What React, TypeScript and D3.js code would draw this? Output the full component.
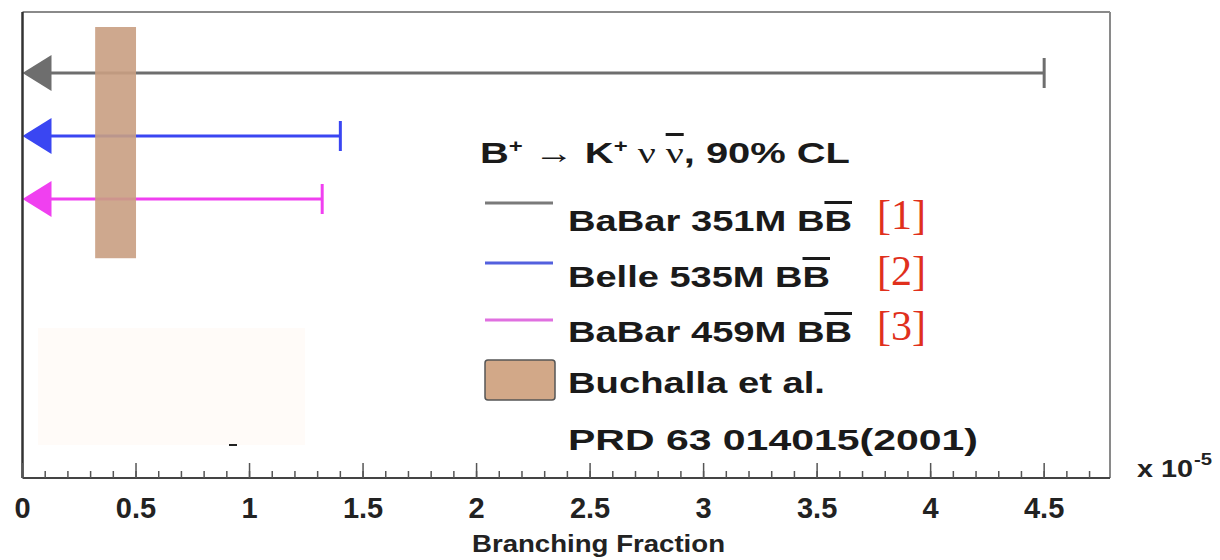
import React from "react";
import * as d3 from "d3";

// ---- data ----
const experiments = ["BaBar 351M", "Belle 535M", "BaBar 459M"];
const upperLimits = [4.5, 1.4, 1.32]; // x 10^-5, 90% CL
const seriesColors = ["#6e6e6e", "#3a46f2", "#f040f0"];
const legendColors = ["#7a7a7a", "#5360de", "#e070e0"];
const references = ["[1]", "[2]", "[3]"];
const theoryBand = [0.32, 0.5]; // Buchalla et al.
const theoryRows = [-0.73, 2.94];
const majorTicks = [0, 0.5, 1, 1.5, 2, 2.5, 3, 3.5, 4, 4.5];
const minorTicks = d3.range(0, 48).map((i) => i / 10);
const xDomain = [0, 4.79];

const W = 1220;
const H = 560;
const left = 22.5;
const right = 1110;
const top = 12;
const bottom = 478;

const SANS = "'Liberation Sans', Arial, Helvetica, sans-serif";
const SERIF = "'Liberation Serif', 'Times New Roman', serif";

export default function App() {
  const x = d3.scaleLinear().domain(xDomain).range([left, right]);
  const rowY = d3.scaleLinear().domain([0, 1]).range([73, 136]);

  const headLen = 29;
  const headHalf = 18;

  const legendRows = [231, 287, 342];
  const legendLineY = [203, 263, 320];
  const legendWidths = [284, 262, 284];

  return (
    <svg
      width={W}
      height={H}
      style={{ position: "absolute", left: 0, top: 0, background: "#fff" }}
      xmlns="http://www.w3.org/2000/svg"
    >
      <rect x={0} y={0} width={W} height={H} fill="#fff" />
      {/* faint patch */}
      <rect x={38} y={328} width={267} height={117} fill="#fffbf8" />
      <line x1={229} x2={237} y1={445} y2={445} stroke="#222" strokeWidth={2} />

      {/* arrows */}
      {experiments.map((e, i) => {
        const y = rowY(i);
        const x0 = x(0);
        const x1 = x(upperLimits[i]);
        return (
          <g key={e}>
            <line x1={x0 + headLen - 2} x2={x1} y1={y} y2={y} stroke={seriesColors[i]} strokeWidth={3} />
            <line x1={x1} x2={x1} y1={y - 15} y2={y + 15} stroke={seriesColors[i]} strokeWidth={3} />
            <polygon
              points={`${x0},${y} ${x0 + headLen},${y - headHalf} ${x0 + headLen},${y + headHalf}`}
              fill={seriesColors[i]}
            />
          </g>
        );
      })}

      {/* theory band */}
      <rect
        x={x(theoryBand[0])}
        y={rowY(theoryRows[0])}
        width={x(theoryBand[1]) - x(theoryBand[0])}
        height={rowY(theoryRows[1]) - rowY(theoryRows[0])}
        fill="#c99f82"
        opacity={0.9}
      />

      {/* frame */}
      <line x1={left} x2={right} y1={top} y2={top} stroke="#8a8a8a" strokeWidth={2} />
      <line x1={right} x2={right} y1={top} y2={bottom} stroke="#8a8a8a" strokeWidth={2} />
      <line x1={left} x2={left} y1={top} y2={bottom} stroke="#333" strokeWidth={2.5} />
      <line x1={left} x2={right} y1={bottom} y2={bottom} stroke="#444" strokeWidth={2} />

      {/* ticks */}
      {minorTicks.map((t) => (
        <line key={"m" + t} x1={x(t)} x2={x(t)} y1={bottom} y2={bottom - 7} stroke="#555" strokeWidth={1.5} />
      ))}
      {majorTicks.map((t) => (
        <line key={"M" + t} x1={x(t)} x2={x(t)} y1={bottom} y2={bottom - 15} stroke="#555" strokeWidth={1.5} />
      ))}
      {majorTicks.map((t) => (
        <text
          key={"l" + t}
          x={x(t)}
          y={518}
          textAnchor="middle"
          fontFamily={SANS}
          fontWeight="bold"
          fontSize={29}
          fill="#222"
        >
          {String(t)}
        </text>
      ))}

      <text x={472} y={552} textLength={253} lengthAdjust="spacingAndGlyphs" fontFamily={SANS} fontWeight="bold" fontSize={23} fill="#222">
        Branching Fraction
      </text>

      <text x={1137} y={477} textLength={56} lengthAdjust="spacingAndGlyphs" fontFamily={SANS} fontWeight="bold" fontSize={24} fill="#222">
        x 10
      </text>
      <text x={1194} y={465} textLength={18} lengthAdjust="spacingAndGlyphs" fontFamily={SANS} fontWeight="bold" fontSize={17} fill="#222">
        -5
      </text>

      {/* legend title */}
      <text x={480} y={163} textLength={370} lengthAdjust="spacingAndGlyphs" fontFamily={SANS} fontWeight="bold" fontSize={30} fill="#1a1a1a">
        <tspan>B</tspan>
        <tspan fontSize={18} dy={-11}>+</tspan>
        <tspan dy={11}> → K</tspan>
        <tspan fontSize={18} dy={-11}>+</tspan>
        <tspan dy={11} fontFamily={SERIF} fontWeight="normal"> ν </tspan>
        <tspan fontFamily={SERIF} fontWeight="normal" style={{ textDecoration: "overline" }}>ν</tspan>
        <tspan>, 90% CL</tspan>
      </text>

      {/* legend entries */}
      {experiments.map((e, i) => (
        <g key={"lg" + e}>
          <line x1={485} x2={553} y1={legendLineY[i]} y2={legendLineY[i]} stroke={legendColors[i]} strokeWidth={3} />
          <text
            x={568}
            y={legendRows[i]}
            textLength={legendWidths[i]}
            lengthAdjust="spacingAndGlyphs"
            fontFamily={SANS}
            fontWeight="bold"
            fontSize={30}
            fill="#1a1a1a"
          >
            {e} B<tspan style={{ textDecoration: "overline" }}>B</tspan>
          </text>
          <text x={877} y={legendRows[i] - 2} fontFamily={SERIF} fontSize={42} fill="#e0301c">
            {references[i]}
          </text>
        </g>
      ))}

      <rect x={485} y={360} width={70} height={40} rx={3} fill="#d2a888" stroke="#555" strokeWidth={1.5} />
      <text x={568} y={393} textLength={257} lengthAdjust="spacingAndGlyphs" fontFamily={SANS} fontWeight="bold" fontSize={30} fill="#1a1a1a">
        Buchalla et al.
      </text>
      <text x={568} y={450} textLength={410} lengthAdjust="spacingAndGlyphs" fontFamily={SANS} fontWeight="bold" fontSize={30} fill="#1a1a1a">
        PRD 63 014015(2001)
      </text>
    </svg>
  );
}
